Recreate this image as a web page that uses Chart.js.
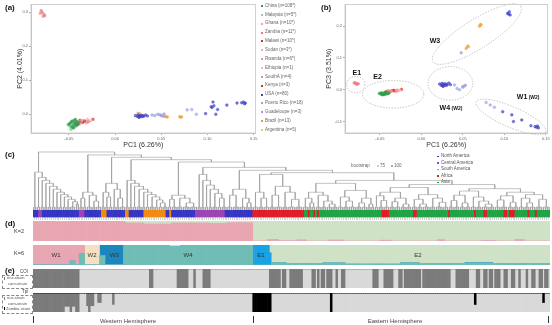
<!DOCTYPE html>
<html>
<head>
<meta charset="utf-8">
<script src="https://cdn.jsdelivr.net/npm/chart.js@4.4.1/dist/chart.umd.min.js"></script>
<style>
body{margin:0;background:#fff;font-family:"Liberation Sans",Arial,sans-serif;}
#fig{position:relative;width:552px;height:325px;overflow:hidden;background:#fff;}
canvas{position:absolute;}
.t{position:absolute;white-space:nowrap;line-height:1;color:#444;}
.pl{font-weight:bold;font-size:8px;color:#111;}
.sm{font-size:4.5px;color:#666;}
.dot{position:absolute;width:2px;height:2px;}
.box{position:absolute;border:0.6px dashed #888;}
.vl{position:absolute;width:0.8px;background:#333;}
</style>
</head>
<body>
<div id="fig">
	<canvas id="pcaA" width="260" height="150" style="left:0;top:0"></canvas>
	<canvas id="pcaB" width="242" height="150" style="left:310px;top:0"></canvas>
	<canvas id="dendro" width="517" height="63" style="left:33px;top:147px"></canvas>
	<canvas id="strip" width="517" height="10" style="left:33px;top:210px"></canvas>
	<canvas id="k2" width="517" height="20" style="left:33px;top:221px"></canvas>
	<canvas id="k6" width="517" height="20" style="left:33px;top:245px"></canvas>
	<canvas id="coi" width="517" height="19" style="left:33px;top:269px"></canvas>
	<canvas id="tpi" width="517" height="19" style="left:33px;top:293px"></canvas>
	<div id="labels"></div>
</div>
<script>
// --- PCA samples (one array per country, same order in every list) ---
var countryNames = ['China (n=108*)','Malaysia (n=5*)','Ghana (n=10*)','Zambia (n=11*)','Malawi (n=10*)','Sudan (n=3*)','Rwanda (n=6*)','Ethiopia (n=1)','SouthA (n=4)','Kenya (n=3)','USA (n=80)','Puerto Rico (n=18)','Guadeloupe (n=3)','Brazil (n=13)','Argentina (n=5)'];
var countryColors = ['#2f9e50','#8fd39a','#f3a3a3','#ee7c7c','#e3262b','#f0a8b2','#ec9090','#f5baba','#e98e8e','#d82a2a','#4040c6','#9ba2e6','#b68ad8','#f2992e','#f7c27e'];

var pc1 = [
	[-0.050,-0.048,-0.047,-0.046,-0.045,-0.044,-0.044,-0.043,-0.042,-0.041,-0.040,-0.046,-0.049,-0.043,-0.045,-0.039,-0.047,-0.042],
	[-0.049,-0.047,-0.051,-0.044,-0.048],
	[-0.043,-0.040,-0.038,-0.036],
	[-0.079,-0.077,-0.080,-0.076],
	[-0.042,-0.040,-0.038,-0.035,-0.033,-0.041],
	[-0.030,-0.028],
	[-0.037,-0.034,-0.031],
	[-0.026],
	[-0.081,-0.078],
	[-0.024,-0.029],
	[0.022,0.024,0.025,0.026,0.027,0.028,0.029,0.030,0.031,0.033,0.035,0.026,0.104,0.106,0.107,0.105,0.098,0.109,0.111,0.121,0.132,0.137,0.139,0.141,0.140],
	[0.040,0.043,0.046,0.050,0.052,0.078,0.083,0.088],
	[0.048,0.050,0.053],
	[0.025,0.056,0.072,0.054,0.070],
	[0.027,0.057,0.071]
];
var pc2 = [
	[-0.030,-0.025,-0.035,-0.020,-0.028,-0.032,-0.018,-0.026,-0.034,-0.022,-0.030,-0.038,-0.027,-0.015,-0.040,-0.024,-0.021,-0.029],
	[-0.036,-0.042,-0.030,-0.038,-0.045],
	[-0.025,-0.020,-0.028,-0.018],
	[0.300,0.294,0.305,0.290],
	[-0.022,-0.026,-0.018,-0.024,-0.020,-0.030],
	[-0.015,-0.020],
	[-0.022,-0.019,-0.025],
	[-0.018],
	[0.297,0.288],
	[-0.015,-0.021],
	[-0.004,-0.006,-0.002,-0.008,-0.005,-0.003,-0.007,-0.004,-0.006,-0.002,-0.005,-0.009,0.022,0.036,0.025,0.020,0.002,0.000,0.014,0.027,0.033,0.034,0.036,0.033,0.031],
	[-0.002,-0.004,0.000,-0.003,-0.006,0.013,0.014,0.000],
	[-0.001,-0.004,0.001],
	[0.003,-0.008,-0.008,-0.006,-0.007],
	[0.002,-0.007,-0.009]
];
var pc3 = [
	[-0.012,-0.010,-0.014,-0.011,-0.013,-0.009,-0.015,-0.012,-0.010,-0.013,-0.011,-0.014,-0.012,-0.008,-0.013,-0.010,-0.016,-0.011],
	[-0.013,-0.015,-0.011,-0.012,-0.014],
	[-0.006,-0.004,-0.008,-0.005],
	[0.020,0.018,0.022,0.019],
	[-0.005,-0.004,-0.006,-0.003,-0.002,-0.007],
	[-0.002,-0.004],
	[-0.004,-0.003,-0.006],
	[-0.001],
	[0.021,0.017],
	[0.001,-0.002],
	[0.018,0.014,0.020,0.012,0.016,0.019,0.013,0.017,0.015,0.021,0.016,0.011,0.240,0.245,0.235,0.238,-0.069,-0.079,-0.100,-0.095,-0.113,-0.116,-0.118,-0.120,-0.114],
	[0.015,0.004,0.000,0.008,0.012,-0.040,-0.048,-0.055],
	[0.116,0.010,0.014],
	[0.015,0.137,0.204,0.130,0.200],
	[0.012,0.135,0.206]
];

// clusters circled in PC1/PC3: major axis end points and minor/major ratio
var clusterNames = ['E1','E2','W4','W3','W1'];
var clusterSub = ['','',' (W2)','',' (W2)'];
var clusterEnd1 = [[-0.090,0.016],[-0.071,-0.014],[0.008,0.020],[0.014,0.088],[0.066,-0.038]];
var clusterEnd2 = [[-0.068,0.016],[0.003,-0.014],[0.062,0.020],[0.120,0.262],[0.150,-0.133]];
var clusterRatio = [0.9,0.45,0.75,0.28,0.27];
var clusterLabelX = [-0.083,-0.058,0.022,0.010,0.115];
var clusterLabelY = [0.052,0.040,-0.058,0.152,-0.024];

// --- tree: [height, child, child...], a number is a terminal group of that many samples ---
var tree = [0.98,
	[0.64,2,[0.55,2,[0.5,2,[0.45,2,[0.4,2,[0.35,2,[0.3,2,[0.26,2,[0.22,2,[0.18,2,[0.14,3,[0.1,1,1]]]]]]]]]]]],
	[0.93,
		[0.3,[0.2,2,2],[0.25,3,[0.15,2,3]]],
		[0.89,
			[0.45,[0.3,2,[0.22,2,2]],[0.35,2,[0.2,2,3]]],
			[0.85,
				[0.5,2,[0.45,2,[0.4,2,[0.35,3,[0.3,2,[0.26,2,[0.22,3,[0.17,2,[0.12,2,3]]]]]]]]],
				[0.81,
					[0.25,[0.18,2,3],[0.2,3,[0.12,4,4]]],
					[0.72,
						[0.6,2,[0.5,2,[0.42,2,[0.35,2,[0.28,3,[0.2,2,3]]]]]],
						[0.67,
							[0.35,[0.25,3,4],[0.2,3,[0.12,2,2]]],
							[0.63,
								[0.6,[0.3,3,[0.2,3,3]],[0.4,[0.25,3,4],[0.3,3,[0.18,4,4]]]],
								[0.5,
									[0.45,
										[0.3,[0.2,3,[0.12,2,2]],[0.25,3,[0.15,3,[0.1,3,3]]]],
										[0.33,[0.22,3,[0.15,3,4]],[0.2,[0.12,3,3],[0.1,2,2]]]],
									[0.43,
										[0.38,
											[0.3,[0.24,2,[0.16,3,3]],[0.2,[0.14,3,3],[0.1,3,3]]],
											[0.26,[0.18,3,[0.1,3,4]],[0.2,3,[0.13,4,3]]]],
										[0.36,
											[0.32,[0.25,[0.16,3,3],[0.12,3,3]],[0.22,3,[0.15,3,[0.1,4,3]]]],
											[0.3,[0.24,[0.17,3,4],[0.13,3,3]],[0.26,[0.2,3,[0.12,3,3]],[0.18,4,4]]]]]]]]]]]]]];

// --- sample strips (run length: [count, values...]) ---
var regionNames = ['North America','Central America','South America','Africa','Asia'];
var regionColors = ['#3636c4','#9c44b4','#f28a12','#e11d27','#21a446'];
var regionRuns = [[3,0],[2,1],[20,0],[3,1],[9,0],[3,2],[10,0],[2,2],[8,0],[12,2],[2,0],[1,2],[13,0],[16,1],[15,0],
	[28,3],[2,4],[1,3],[2,4],[1,3],[1,4],[1,3],[34,4],[4,3],[13,4],[2,3],[17,4],[1,3],[13,4],[1,3],[4,4],[2,3],[9,4],[2,3],[1,4],[3,3],[7,4],[1,3],[3,4],[1,3],[7,4]];

var k2Names = ['W','E'];
var k2Colors = ['#e8a6b2','#cfe2c6'];
var k2Runs = [[12,1],[8,0.97],[30,1],[10,0.9],[15,0.85],[20,0.9],[10,0.88],[14,0.92],
	[8,0],[6,0.08],[10,0.02],[5,0.06],[12,0],[8,0.05],[20,0],[6,0.04],[25,0],[4,0.07],[20,0],[8,0.03],[10,0],[5,0.08],[14,0]];

var k6Names = ['W1','W2','W3','W4','E1','E2'];
var k6Colors = ['#e8a6b2','#f7e0c2','#1b87bd','#6fbdb5','#18a2e6','#cfe2c6'];
var k6Runs = [[20,1,0,0,0,0,0],[3,0.8,0,0,0.2,0,0],[2,1,0,0,0,0,0],[3,0.45,0,0,0.55,0,0],[8,0,1,0,0,0,0],[3,0,0,0.55,0.45,0,0],
	[10,0,0,1,0,0,0],[25,0,0,0,1,0,0],[6,0,0,0,0.9,0,0.1],[39,0,0,0,1,0,0],
	[9,0,0,0,0,1,0],[1,0,0,0,0,0.6,0.4],[8,0,0,0,0.12,0,0.88],[20,0,0,0,0.05,0,0.95],[12,0,0,0,0.1,0,0.9],[30,0,0,0,0.04,0,0.96],
	[10,0,0,0,0.12,0,0.88],[25,0,0,0,0.05,0,0.95],[15,0,0,0,0.1,0.02,0.88],[31,0,0,0,0.05,0,0.95]];
var k6StackOrder = [3,4,0,1,2,5];

// COI: [count, rice share]
var coiRuns = [[25,1],[38,0],[2,1],[13,0],[6,1],[3,0],[1,1],[4,0],[4,1],[32,0],[6,1],[1,0],[2,1],[2,0],[7,1],[5,0],[2,1],[1,0],[1,1],[1,0],[2,1],[1,0],[3,1],[2,0],[1,1],[2,0],[2,1],[15,0],[3,1],[3,0],[5,1],[3,0],[2,1],[1,0],[9,1],[1,0],[15,1],[3,0],[7,1],[4,0],[2,1],[2,0],[2,1],[1,0],[2,1],[1,0],[3,1],[2,0],[2,1],[2,0],[2,1],[2,0],[1,1],[3,0],[1,1],[2,0],[2,1],[2,0],[2,1],[1,0],[2,1],[1,0]];
// Tpi: [count, Zambia share, rice share]
var tpiRuns = [[17,0,1],[3,0,0.7],[1,0,1],[2,0,0.7],[2,0,1],[4,0,0],[1,0,0.67],[1,0,1],[2,0,0.67],[2,0,0],[2,0,0.5],[6,0,0],[1,0,0.6],[75,0,0],
	[10,1,0],[32,0,0],[1,1,0],[77,0,0],[1,0.6,0],[36,0,0],[1,0.5,0],[3,0,0]];
var markerNames = ['rice-strain','corn-strain','Zambia strain'];
var markerColors = ['#7b7b7b','#d9d9d9','#000000'];

var FONT = '"Liberation Sans", Arial, sans-serif';
Chart.defaults.font.family = FONT;

function expand(runs){
	var out=[];
	for (var i = 0; i < runs.length; i++) {
		for (var j = 0; j < runs[i][0]; j++) out.push(runs[i].slice(1));
	}
	return out;
}

var boxPlugin = {
	id:'box',
	afterDraw:function(chart){
		var a=chart.chartArea, c=chart.ctx;
		c.save();
		c.strokeStyle='#c6c6c6';
		c.lineWidth=0.8;
		c.strokeRect(a.left,a.top,a.right-a.left,a.bottom-a.top);
		c.restore();
	}
};

function pcaDatasets(yArr){
	var sets=[];
	for (var i = 0; i < countryNames.length; i++) {
		var pts=[];
		for (var j = 0; j < pc1[i].length; j++) pts.push({x:pc1[i][j],y:yArr[i][j]});
		sets.push({
			label:countryNames[i],
			data:pts,
			backgroundColor:countryColors[i]+'aa',
			borderColor:countryColors[i],
			borderWidth:0.5,
			pointRadius:1.3
		});
	}
	return sets;
}

function pcaOptions(xmin,xmax,ymin,ymax,yTitle,yWidth,titlePad){
	return {
		responsive:false, animation:false, devicePixelRatio:1,
		layout:{padding:{top:3,right:4,left:0,bottom:0}},
		plugins:{legend:{display:false},tooltip:{enabled:false}},
		scales:{
			x:{type:'linear',min:xmin,max:xmax,
				afterFit:function(s){s.height=17;},
				ticks:{stepSize:0.05,includeBounds:false,font:{size:4},color:'#666',padding:1,maxRotation:0,autoSkip:false,
					callback:function(v){return v.toFixed(2);}},
				grid:{drawOnChartArea:false,tickLength:2,color:'#aaa'},
				border:{color:'#c6c6c6'},
				title:{display:true,text:'PC1 (6.26%)',font:{size:7},color:'#333',padding:{top:0,bottom:1}}},
			y:{type:'linear',min:ymin,max:ymax,
				afterFit:function(s){s.width=yWidth;},
				ticks:{stepSize:0.1,includeBounds:false,font:{size:4},color:'#666',padding:1,
					callback:function(v){return v.toFixed(1);}},
				grid:{drawOnChartArea:false,tickLength:2,color:'#aaa'},
				border:{color:'#c6c6c6'},
				title:{display:true,text:yTitle,font:{size:7},color:'#333',padding:{top:titlePad,bottom:0}}}
		}
	};
}

new Chart(document.getElementById('pcaA'),{
	type:'scatter',
	data:{datasets:pcaDatasets(pc2)},
	options:pcaOptions(-0.091,0.152,-0.055,0.323,'PC2 (4.01%)',31,16),
	plugins:[boxPlugin]
});

var clusterPlugin = {
	id:'clusters',
	afterDatasetsDraw:function(chart){
		var xs=chart.scales.x, ys=chart.scales.y, c=chart.ctx;
		c.save();
		for (var i = 0; i < clusterNames.length; i++) {
			var x1=xs.getPixelForValue(clusterEnd1[i][0]), y1=ys.getPixelForValue(clusterEnd1[i][1]);
			var x2=xs.getPixelForValue(clusterEnd2[i][0]), y2=ys.getPixelForValue(clusterEnd2[i][1]);
			var a=Math.hypot(x2-x1,y2-y1)/2;
			c.beginPath();
			c.setLineDash([1.4,1.4]);
			c.strokeStyle='#a8a8a8';
			c.lineWidth=0.7;
			c.ellipse((x1+x2)/2,(y1+y2)/2,a,a*clusterRatio[i],Math.atan2(y2-y1,x2-x1),0,Math.PI*2);
			c.stroke();
			c.setLineDash([]);
			var lx=xs.getPixelForValue(clusterLabelX[i]), ly=ys.getPixelForValue(clusterLabelY[i]);
			c.fillStyle='#111';
			c.textBaseline='middle';
			c.textAlign='left';
			c.font='bold 7px '+FONT;
			c.fillText(clusterNames[i],lx,ly);
			if (clusterSub[i]) {
				var w=c.measureText(clusterNames[i]).width;
				c.font='bold 5px '+FONT;
				c.fillText(clusterSub[i],lx+w,ly+0.5);
			}
		}
		c.restore();
	}
};

new Chart(document.getElementById('pcaB'),{
	type:'scatter',
	data:{datasets:pcaDatasets(pc3)},
	options:pcaOptions(-0.092,0.152,-0.136,0.268,'PC3 (3.51%)',35,15),
	plugins:[boxPlugin,clusterPlugin]
});

// tree layout: node x is the middle of its outer children
function layoutTree(node,start){
	if (typeof node === 'number') {
		return {leaf:true,n:node,start:start,end:start+node,x:start+(node-1)/2,h:0};
	}
	var kids=[], s=start;
	for (var k = 1; k < node.length; k++) {
		var c=layoutTree(node[k],s);
		kids.push(c);
		s=c.end;
	}
	return {leaf:false,h:node[0],kids:kids,start:start,end:s,x:(kids[0].x+kids[kids.length-1].x)/2};
}
var TIP=0.05;
function treeSegments(nd,out){
	var gap={x:null,y:null};
	if (nd.leaf) {
		if (nd.n===1) return;
		out.push({x:nd.start,y:TIP},{x:nd.end-1,y:TIP},gap);
		for (var i = nd.start; i < nd.end; i++) out.push({x:i,y:TIP},{x:i,y:0},gap);
		return;
	}
	out.push({x:nd.kids[0].x,y:nd.h},{x:nd.kids[nd.kids.length-1].x,y:nd.h},gap);
	for (var k = 0; k < nd.kids.length; k++) {
		var ch=nd.kids[k];
		var bottom=ch.leaf ? (ch.n>1 ? TIP : 0) : ch.h;
		out.push({x:ch.x,y:nd.h},{x:ch.x,y:bottom},gap);
		treeSegments(ch,out);
	}
}
var root=layoutTree(tree,0);
var nSamples=root.end;
var segs=[];
treeSegments(root,segs);

new Chart(document.getElementById('dendro'),{
	type:'scatter',
	data:{datasets:[{data:segs,showLine:true,spanGaps:false,pointRadius:0,borderColor:'#9c9c9c',borderWidth:0.6}]},
	options:{
		responsive:false, animation:false, devicePixelRatio:1,
		layout:{padding:0},
		plugins:{legend:{display:false},tooltip:{enabled:false}},
		scales:{
			x:{type:'linear',display:false,min:-0.5,max:nSamples-0.5},
			y:{type:'linear',display:false,min:0,max:1.064}
		}
	}
});

var sampleLabels=[];
for (var i = 0; i < nSamples; i++) sampleLabels.push(String(i+1));

function barChart(id,datasets,reverse,withTicks,extraPlugins){
	return new Chart(document.getElementById(id),{
		type:'bar',
		data:{labels:sampleLabels,datasets:datasets},
		options:{
			responsive:false, animation:false, devicePixelRatio:1,
			layout:{padding:0},
			plugins:{legend:{display:false},tooltip:{enabled:false}},
			datasets:{bar:{barPercentage:1,categoryPercentage:1,borderWidth:0}},
			scales:{
				x:{stacked:true,display:withTicks,
					ticks:{display:false},
					grid:{drawOnChartArea:false,tickLength:2.5,color:'#b4b4b4',lineWidth:0.6},
					border:{display:false}},
				y:{stacked:true,display:false,min:0,max:1,reverse:reverse}
			}
		},
		plugins:extraPlugins||[]
	});
}

// region strip under the tree
var regions=expand(regionRuns);
barChart('strip',[{
	data:regions.map(function(){return 1;}),
	backgroundColor:regions.map(function(r){return regionColors[r[0]];})
}],false,true);

// K=2
var k2=expand(k2Runs);
barChart('k2',[
	{label:k2Names[0],data:k2.map(function(r){return r[0];}),backgroundColor:k2Colors[0]},
	{label:k2Names[1],data:k2.map(function(r){return 1-r[0];}),backgroundColor:k2Colors[1]}
],false,false);

// K=6
var k6=expand(k6Runs);
var k6Sets=k6StackOrder.map(function(c){
	return {label:k6Names[c],data:k6.map(function(r){return r[c];}),backgroundColor:k6Colors[c]};
});
var k6LabelPlugin = {
	id:'k6labels',
	afterDatasetsDraw:function(chart){
		var xs=chart.scales.x, c=chart.ctx, a=chart.chartArea;
		c.save();
		c.fillStyle='#333';
		c.font='6px '+FONT;
		c.textAlign='center';
		c.textBaseline='middle';
		for (var comp = 0; comp < k6Names.length; comp++) {
			var first=-1, last=-1;
			for (var i = 0; i < k6.length; i++) {
				var best=0;
				for (var j = 1; j < k6[i].length; j++) if (k6[i][j]>k6[i][best]) best=j;
				if (best===comp && k6[i][comp]>0.9) { if (first<0) first=i; last=i; }
			}
			if (first>=0) c.fillText(k6Names[comp],xs.getPixelForValue((first+last)/2),(a.top+a.bottom)/2);
		}
		c.restore();
	}
};
barChart('k6',k6Sets,false,false,[k6LabelPlugin]);

// mitochondrial COI
var coi=expand(coiRuns);
barChart('coi',[
	{label:markerNames[0],data:coi.map(function(r){return r[0];}),backgroundColor:markerColors[0]},
	{label:markerNames[1],data:coi.map(function(r){return 1-r[0];}),backgroundColor:markerColors[1]}
],true,false);

// nuclear Tpi, stacked from the top
var tpi=expand(tpiRuns);
barChart('tpi',[
	{label:markerNames[2],data:tpi.map(function(r){return r[0];}),backgroundColor:markerColors[2]},
	{label:markerNames[0],data:tpi.map(function(r){return r[1];}),backgroundColor:markerColors[0]},
	{label:markerNames[1],data:tpi.map(function(r){return 1-r[0]-r[1];}),backgroundColor:markerColors[1]}
],true,false);

// --- text around the panels ---
var html='';
function txt(s,x,y,cls,extra){
	html+='<div class="t '+(cls||'')+'" style="left:'+x+'px;top:'+y+'px;'+(extra||'')+'">'+s+'</div>';
}
txt('(a)',5,4,'pl');
txt('(b)',321,4,'pl');
txt('(c)',5,151,'pl');
txt('(d)',5,220,'pl');
txt('(e)',5,267,'pl');
for (var i = 0; i < countryNames.length; i++) {
	var cy=6+8.85*i;
	html+='<div class="dot" style="left:261px;top:'+(cy-1)+'px;background:'+countryColors[i]+'"></div>';
	txt(countryNames[i],265,cy-2.3,'sm');
}
txt('bootstrap',351,163.7,'sm');
html+='<div class="dot" style="left:377px;top:165px;width:1.5px;height:1.5px;border-radius:1px;background:#9cc6e8"></div>';
txt('75',380,163.7,'sm');
html+='<div class="dot" style="left:391px;top:165px;width:1.5px;height:1.5px;border-radius:1px;background:#5b9bd8"></div>';
txt('100',394,163.7,'sm');
for (var i = 0; i < regionNames.length; i++) {
	var cy=156.5+6.5*i;
	html+='<div class="dot" style="left:437px;top:'+(cy-1)+'px;width:1.8px;height:1.8px;background:'+regionColors[i]+'"></div>';
	txt(regionNames[i],441,cy-2.3,'sm',"color:#555");
}
txt('K=2',14,229,'','font-size:5.5px;color:#333');
txt('K=6',14,251,'','font-size:5.5px;color:#333');
txt('COI',20,269.5,'sm','color:#444');
html+='<div class="box" style="left:2px;top:275px;width:29px;height:12px"></div>';
html+='<div class="dot" style="left:4px;top:276.8px;width:0.8px;height:3.5px;background:'+markerColors[0]+'"></div>';
txt(markerNames[0],7,276.4,'','font-size:4px;color:#555');
txt(markerNames[1],8,281.8,'','font-size:4px;color:#555');
txt('Tpi',22,289.5,'sm','color:#444');
html+='<div class="box" style="left:2px;top:295px;width:29px;height:17px"></div>';
html+='<div class="dot" style="left:4px;top:296.6px;width:0.8px;height:3.5px;background:'+markerColors[0]+'"></div>';
txt(markerNames[0],7,296.3,'','font-size:4px;color:#555');
txt(markerNames[1],8,301.8,'','font-size:4px;color:#555');
html+='<div class="dot" style="left:3.5px;top:306.8px;width:1.5px;height:3.5px;background:'+markerColors[2]+'"></div>';
txt(markerNames[2],6,307.1,'','font-size:4px;color:#555');
html+='<div class="vl" style="left:33px;top:316px;height:7px"></div>';
html+='<div class="vl" style="left:253px;top:316px;height:7px"></div>';
html+='<div class="vl" style="left:548px;top:316px;height:7px"></div>';
txt('Western Hemisphere',128,318,'','font-size:6px;color:#444;transform:translateX(-50%)');
txt('Eastern Hemisphere',395,318,'','font-size:6px;color:#444;transform:translateX(-50%)');
document.getElementById('labels').innerHTML=html;
</script>
</body>
</html>
